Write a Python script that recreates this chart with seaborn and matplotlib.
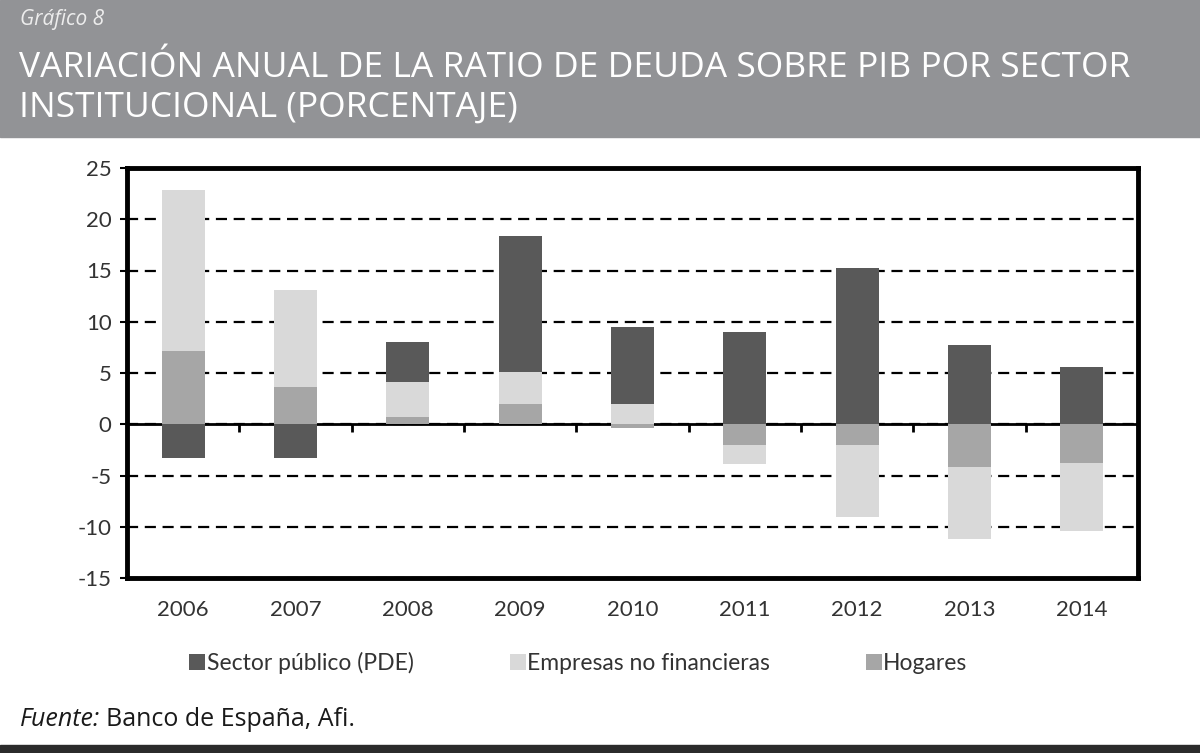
import numpy as np
import pandas as pd
import matplotlib.pyplot as plt
from matplotlib.patches import Rectangle
import seaborn as sns

years = ['2006', '2007', '2008', '2009', '2010', '2011', '2012', '2013', '2014']
publico = [-3.3, -3.3, 3.9, 13.3, 7.5, 9.0, 15.2, 7.7, 5.6]
empresas = [15.8, 9.5, 3.4, 3.1, 2.0, -1.9, -7.0, -7.0, -6.6]
hogares = [7.1, 3.6, 0.7, 2.0, -0.4, -2.0, -2.0, -4.2, -3.8]

legend_order = ['Sector público (PDE)', 'Empresas no financieras', 'Hogares']
ymin, ymax = -15, 25

sns.set_style('white')
plt.rcParams['font.family'] = ['Lato', 'DejaVu Sans']
plt.rcParams['axes.unicode_minus'] = False

fig = plt.figure(figsize=(12, 7.53), dpi=100)

# header band and bottom rule
fig.patches.append(Rectangle((0, 1 - 137 / 753), 1, 137 / 753, transform=fig.transFigure,
                             color='#929396', zorder=0))
fig.patches.append(Rectangle((0, 0), 1, 8 / 753, transform=fig.transFigure,
                             color='#2b2b2b', zorder=0))

fig.text(20 / 1200, 1 - 20 / 753, 'Gráfico 8', fontsize=15, style='italic',
         color='#ededed', va='center', family=['Open Sans', 'DejaVu Sans'])
fig.text(19 / 1200, 1 - 68 / 753, 'VARIACIÓN ANUAL DE LA RATIO DE DEUDA SOBRE PIB POR SECTOR',
         fontsize=25.5, color='white', va='center', family=['Open Sans', 'DejaVu Sans'])
fig.text(19 / 1200, 1 - 108 / 753, 'INSTITUCIONAL (PORCENTAJE)',
         fontsize=25.5, color='white', va='center', family=['Open Sans', 'DejaVu Sans'])

ax = fig.add_axes([127 / 1200, 1 - 578 / 753, (1138 - 127) / 1200, (578 - 168) / 753])

df = pd.DataFrame({'year': years, 'Sector público (PDE)': publico,
                   'Empresas no financieras': empresas, 'Hogares': hogares})
colors = {'Sector público (PDE)': '#595959', 'Empresas no financieras': '#d9d9d9',
          'Hogares': '#a6a6a6'}

# stack positives and negatives separately: Hogares, Empresas, Público
pos = np.zeros(len(years))
neg = np.zeros(len(years))
for name in ['Hogares', 'Empresas no financieras', 'Sector público (PDE)']:
    v = df[name].to_numpy()
    bottom = np.where(v >= 0, pos, neg)
    sns.barplot(data=df, x='year', y=name, bottom=bottom, color=colors[name], width=0.38,
                saturation=1, errorbar=None, linewidth=0, label=name, ax=ax, zorder=3)
    pos += np.where(v >= 0, v, 0)
    neg += np.where(v < 0, v, 0)

if ax.get_legend() is not None:
    ax.get_legend().remove()

ax.set_ylim(ymin, ymax)
ax.set_xlim(-0.5, len(years) - 0.5)
ax.set_yticks(range(ymin, ymax + 1, 5))
ax.set_xlabel('')
ax.set_ylabel('')
ax.yaxis.grid(True, color='black', lw=1.6, ls=(0, (5, 3)))
ax.xaxis.grid(False)
ax.set_axisbelow(True)
for s in ax.spines.values():
    s.set_visible(True)
    s.set_linewidth(3.5)
    s.set_color('black')
ax.tick_params(axis='y', left=True, direction='out', length=5, width=1.5, color='black',
               labelsize=16, labelcolor='#333333', pad=6)
ax.tick_params(axis='x', bottom=False, labelsize=16, labelcolor='#333333', pad=12)

# zero line with ticks between categories
zero = ax.secondary_xaxis((0 - ymin) / (ymax - ymin))
zero.set_xticks(np.arange(len(years) - 1) + 0.5)
zero.tick_params(direction='out', length=6, width=2, color='black', labelbottom=False,
                 labeltop=False)
for s in zero.spines.values():
    s.set_linewidth(2)
    s.set_color('black')

handles, labels = ax.get_legend_handles_labels()
hmap = dict(zip(labels, handles))
fig.legend([hmap[n] for n in legend_order], legend_order, loc='center',
           bbox_to_anchor=(0.482, 1 - 663 / 753), ncol=3, frameon=False, fontsize=16.5,
           handlelength=0.7, handleheight=0.7, handletextpad=0.05, columnspacing=4.2,
           labelcolor='#333333')

t1 = fig.text(20 / 1200, 1 - 720 / 753, 'Fuente:', fontsize=18, style='italic',
              color='#1a1a1a', va='center', family=['Open Sans', 'DejaVu Sans'])
ax.annotate('Banco de España, Afi.', xy=(1, 0), xycoords=t1, xytext=(4, 0),
            textcoords='offset points', va='bottom', ha='left', fontsize=18,
            color='#1a1a1a', annotation_clip=False, family=['Open Sans', 'DejaVu Sans'])

fig.savefig('out.png', dpi=100)
